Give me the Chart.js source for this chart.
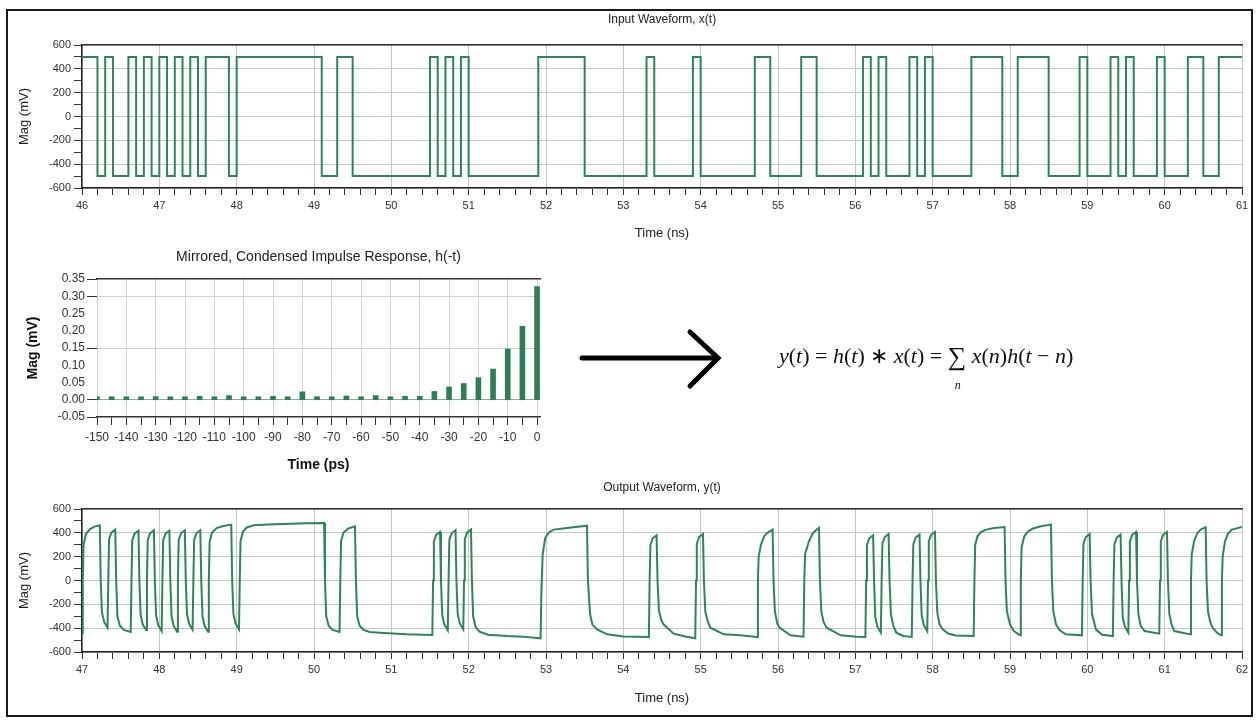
<!DOCTYPE html>
<html>
<head>
<meta charset="utf-8">
<script src="https://cdn.jsdelivr.net/npm/chart.js@4.4.1/dist/chart.umd.min.js"></script>
<style>
  body { margin:0; background:#fff; width:1258px; height:722px; overflow:hidden; position:relative; }
  #frame { position:absolute; left:6px; top:9px; width:1243px; height:704px; border:2px solid #1a1a1a; }
  canvas { position:absolute; }
  #arrow { position:absolute; left:0; top:0; }
  #eq { position:absolute; left:779px; top:343px; font-family:"Liberation Serif","Times New Roman",serif; font-size:22px; white-space:nowrap; color:#111; }
  #eq .sum { position:relative; display:inline-block; font-size:26px; line-height:22px; top:2px; }
  #eq .sub { position:absolute; left:7px; top:28px; font-size:12px; font-style:italic; }
</style>
</head>
<body>
<div id="frame"></div>
<canvas id="inputChart" width="1258" height="245" style="left:0;top:0"></canvas>
<canvas id="impulseChart" width="560" height="245" style="left:0;top:235px"></canvas>
<canvas id="outputChart" width="1258" height="240" style="left:0;top:470px"></canvas>
<svg id="arrow" width="1258" height="722">
  <line x1="582" y1="358" x2="716" y2="358" stroke="#000" stroke-width="5" stroke-linecap="round"/>
  <polyline points="690,332 718,358 690,386" fill="none" stroke="#000" stroke-width="5" stroke-linecap="round" stroke-linejoin="miter"/>
</svg>
<div id="eq"><i>y</i>(<i>t</i>) = <i>h</i>(<i>t</i>) &lowast; <i>x</i>(<i>t</i>) = <span class="sum">&sum;<span class="sub">n</span></span> <i>x</i>(<i>n</i>)<i>h</i>(<i>t</i> &minus; <i>n</i>)</div>
<script>
// input bit stream x(t): [time ns, level mV] at each edge (level held until next edge)
var inputSteps = [
  [46.0,500],[46.2,-500],[46.3,500],[46.4,-500],[46.6,500],[46.7,-500],[46.8,500],[46.9,-500],
  [47.0,500],[47.1,-500],[47.2,500],[47.3,-500],[47.4,500],[47.5,-500],[47.6,500],[47.9,-500],
  [48.0,500],[49.1,-500],[49.3,500],[49.5,-500],[50.5,500],[50.6,-500],[50.7,500],[50.8,-500],
  [50.9,500],[51.0,-500],[51.9,500],[52.5,-500],[53.3,500],[53.4,-500],[53.9,500],[54.0,-500],
  [54.7,500],[54.9,-500],[55.3,500],[55.5,-500],[56.1,500],[56.2,-500],[56.3,500],[56.4,-500],
  [56.7,500],[56.8,-500],[56.9,500],[57.0,-500],[57.5,500],[57.9,-500],[58.1,500],[58.5,-500],
  [58.9,500],[59.0,-500],[59.3,500],[59.4,-500],[59.5,500],[59.6,-500],[59.9,500],[60.0,-500],
  [60.3,500],[60.5,-500],[60.7,500],[61.0,500]
];

// mirrored impulse response h(-t)
var impulseTime = [-150,-145,-140,-135,-130,-125,-120,-115,-110,-105,-100,-95,-90,-85,-80,-75,
  -70,-65,-60,-55,-50,-45,-40,-35,-30,-25,-20,-15,-10,-5,0];
var impulseMag = [0.005,0.006,0.005,0.004,0.009,0.005,0.006,0.010,0.003,0.012,0.005,0.006,0.010,0.004,
  0.023,0.009,0.003,0.011,0.004,0.012,0.004,0.010,0.010,0.024,0.037,0.047,0.064,0.089,0.147,0.213,0.328];

// output waveform y(t): [time ns, mV]
var outputPoints = [
  [47.00,-440],[47.01,0],[47.02,300],[47.05,390],[47.10,430],[47.16,452],[47.23,463],
  [47.242,0],[47.258,-266],[47.285,-346],[47.33,-396],
  [47.34,0],[47.35,347],[47.38,402],[47.43,427],
  [47.442,0],[47.458,-300],[47.49,-380],[47.54,-415],[47.63,-432],
  [47.64,0],[47.65,338],[47.68,393],[47.73,418],
  [47.742,0],[47.758,-288],[47.785,-368],[47.83,-418],
  [47.84,0],[47.85,341],[47.88,396],[47.93,421],
  [47.942,0],[47.958,-294],[47.985,-374],[48.03,-424],
  [48.04,0],[48.05,338],[48.08,393],[48.13,418],
  [48.142,0],[48.158,-300],[48.185,-380],[48.23,-430],
  [48.24,0],[48.25,341],[48.28,396],[48.33,421],
  [48.342,0],[48.358,-283],[48.385,-363],[48.43,-413],
  [48.44,0],[48.45,341],[48.48,396],[48.53,421],
  [48.542,0],[48.558,-300],[48.585,-380],[48.63,-430],
  [48.64,0],[48.65,320],[48.68,400],[48.74,440],[48.83,458],[48.93,469],
  [48.942,0],[48.958,-280],[48.985,-360],[49.03,-410],
  [49.04,0],[49.05,330],[49.08,410],[49.13,445],[49.22,463],[49.40,470],[49.70,476],[49.90,480],[50.13,483],
  [50.142,0],[50.158,-300],[50.19,-380],[50.24,-415],[50.33,-432],
  [50.34,0],[50.35,330],[50.38,400],[50.44,435],[50.53,455],
  [50.542,0],[50.558,-300],[50.59,-380],[50.64,-415],[50.72,-432],[50.90,-440],[51.20,-452],[51.53,-457],
  [51.54,0],[51.55,327],[51.58,382],[51.63,407],
  [51.642,0],[51.658,-288],[51.685,-368],[51.73,-418],
  [51.74,0],[51.75,341],[51.78,396],[51.83,421],
  [51.842,0],[51.858,-280],[51.885,-360],[51.93,-410],
  [51.94,0],[51.95,347],[51.98,402],[52.03,427],
  [52.042,0],[52.058,-300],[52.09,-390],[52.14,-430],[52.25,-455],[52.50,-466],[52.70,-471],[52.93,-485],
  [52.94,-100],[52.957,218],[52.99,357],[53.04,405],[53.10,427],[53.27,441],[53.53,460],
  [53.542,0],[53.57,-285],[53.60,-370],[53.66,-410],[53.79,-452],[54.00,-469],[54.33,-474],
  [54.34,0],[54.35,299],[54.38,354],[54.43,379],
  [54.442,0],[54.46,-250],[54.49,-330],[54.52,-368],[54.65,-446],[54.80,-470],[54.93,-485],
  [54.94,0],[54.95,310],[54.98,365],[55.03,390],
  [55.042,0],[55.06,-260],[55.09,-340],[55.125,-396],[55.30,-452],[55.51,-460],[55.73,-474],
  [55.74,0],[55.75,200],[55.78,301],[55.82,370],[55.86,399],[55.93,427],
  [55.942,0],[55.96,-260],[55.99,-360],[56.02,-396],[56.16,-460],[56.33,-471],
  [56.34,0],[56.35,220],[56.40,329],[56.45,395],[56.50,427],[56.53,441],
  [56.542,0],[56.56,-260],[56.59,-350],[56.63,-396],[56.81,-460],[57.02,-471],[57.13,-474],
  [57.14,0],[57.15,299],[57.18,354],[57.23,379],
  [57.242,0],[57.258,-308],[57.285,-388],[57.33,-438],
  [57.34,0],[57.35,310],[57.38,365],[57.43,390],
  [57.442,0],[57.46,-280],[57.49,-380],[57.53,-438],[57.62,-465],[57.73,-474],
  [57.74,0],[57.75,305],[57.78,360],[57.83,385],
  [57.842,0],[57.858,-294],[57.885,-374],[57.93,-424],
  [57.94,0],[57.95,327],[57.98,382],[58.03,407],
  [58.042,0],[58.06,-270],[58.09,-370],[58.13,-410],[58.20,-445],[58.30,-462],[58.53,-466],
  [58.54,0],[58.55,300],[58.58,371],[58.62,405],[58.69,427],[58.80,440],[58.93,449],
  [58.942,0],[58.96,-260],[59.00,-368],[59.05,-425],[59.13,-460],
  [59.14,0],[59.15,280],[59.185,371],[59.23,410],[59.29,435],[59.40,455],[59.53,469],
  [59.542,0],[59.56,-260],[59.595,-368],[59.64,-415],[59.72,-452],[59.93,-460],
  [59.94,0],[59.95,310],[59.98,365],[60.03,390],
  [60.042,0],[60.06,-280],[60.11,-410],[60.19,-455],[60.33,-466],
  [60.34,0],[60.35,305],[60.38,360],[60.43,385],
  [60.442,0],[60.458,-308],[60.485,-388],[60.53,-438],
  [60.54,0],[60.55,327],[60.58,382],[60.63,407],
  [60.642,0],[60.66,-280],[60.69,-380],[60.74,-424],[60.93,-446],
  [60.94,0],[60.95,327],[60.98,382],[61.03,407],
  [61.042,0],[61.06,-280],[61.09,-370],[61.125,-424],[61.33,-452],
  [61.34,0],[61.35,220],[61.38,329],[61.42,395],[61.47,430],[61.53,446],
  [61.542,0],[61.56,-260],[61.59,-350],[61.62,-396],[61.68,-440],[61.73,-460],
  [61.74,0],[61.75,200],[61.78,329],[61.82,395],[61.87,427],[62.00,449]
];

var waveColor = '#2e8558';
var gridGray = '#c6c6c6';

Chart.defaults.font.family = '"Liberation Sans", Arial, sans-serif';
Chart.defaults.color = '#333';
Chart.defaults.animation = false;
Chart.defaults.events = [];

function isWhole(v, step) {
  var q = v / step;
  return Math.abs(q - Math.round(q)) < 1e-6;
}

function waveOptions(title, xmin, xmax, padTop, titleGap, axisH) {
  return {
    responsive: false,
    layout: { padding: { left: 12, right: 16, top: padTop, bottom: 0 } },
    plugins: {
      legend: { display: false },
      tooltip: { enabled: false },
      title: {
        display: true, text: title, fullSize: false, color: '#222',
        font: { size: 12, weight: 'normal' },
        padding: { top: 0, bottom: titleGap }
      }
    },
    scales: {
      x: {
        type: 'linear', min: xmin, max: xmax,
        ticks: {
          stepSize: 0.2, autoSkip: false, maxRotation: 0, padding: 4,
          font: { size: 11 },
          callback: function (v) { return isWhole(v, 1) ? String(Math.round(v)) : ''; }
        },
        grid: {
          color: function (c) { return c.tick && isWhole(c.tick.value, 1) ? gridGray : 'rgba(0,0,0,0)'; },
          tickColor: '#333', tickLength: 7
        },
        border: { color: '#222', width: 1.5 },
        title: { display: true, text: 'Time (ns)', color: '#222', font: { size: 13 }, padding: { top: 0, bottom: 4 } },
        afterFit: function (s) { s.height = axisH; }
      },
      xTop: {
        type: 'linear', position: 'top', min: xmin, max: xmax,
        ticks: { display: false },
        grid: { drawOnChartArea: false, drawTicks: false },
        border: { color: '#333', width: 1.5 },
        afterFit: function (s) { s.height = 0; }
      },
      y: {
        min: -600, max: 600,
        ticks: {
          stepSize: 100, autoSkip: false, padding: 3, font: { size: 11 },
          callback: function (v) { return isWhole(v, 200) ? String(v) : ''; }
        },
        grid: {
          color: function (c) { return c.tick && isWhole(c.tick.value, 200) ? gridGray : 'rgba(0,0,0,0)'; },
          tickColor: '#333', tickLength: 8
        },
        border: { color: '#222', width: 1.5 },
        title: { display: true, text: 'Mag (mV)', color: '#222', font: { size: 13 }, padding: { top: 5, bottom: 0 } },
        afterFit: function (s) { s.width = 70; }
      }
    }
  };
}

new Chart(document.getElementById('inputChart'), {
  type: 'line',
  data: {
    datasets: [{
      data: inputSteps.map(function (p) { return { x: p[0], y: p[1] }; }),
      stepped: true, borderColor: waveColor, borderWidth: 2, pointRadius: 0, fill: false
    }]
  },
  options: waveOptions('Input Waveform, x(t)', 46, 61, 12, 18.6, 57)
});

new Chart(document.getElementById('outputChart'), {
  type: 'line',
  data: {
    datasets: [{
      data: outputPoints.map(function (p) { return { x: p[0], y: p[1] }; }),
      borderColor: waveColor, borderWidth: 2, pointRadius: 0, tension: 0, fill: false
    }]
  },
  options: waveOptions('Output Waveform, y(t)', 47, 62, 10, 14.6, 58)
});

new Chart(document.getElementById('impulseChart'), {
  type: 'bar',
  data: {
    datasets: [{
      data: impulseTime.map(function (t, i) { return { x: t, y: impulseMag[i] }; }),
      backgroundColor: '#2f7d57', barThickness: 5, minBarLength: 3
    }]
  },
  options: {
    responsive: false,
    layout: { padding: { left: 14, right: 20, top: 14, bottom: 0 } },
    plugins: {
      legend: { display: false },
      tooltip: { enabled: false },
      title: {
        display: true, text: 'Mirrored, Condensed Impulse Response, h(-t)', fullSize: false, color: '#222',
        font: { size: 14, weight: 'normal' },
        padding: { top: 0, bottom: 13.2 }
      }
    },
    scales: {
      x: {
        type: 'linear', min: -150, max: 1, offset: false,
        ticks: {
          stepSize: 5, includeBounds: false, autoSkip: false, maxRotation: 0, padding: 5,
          font: { size: 12 },
          callback: function (v) { return isWhole(v, 10) ? String(v) : ''; }
        },
        grid: {
          offset: false,
          color: function (c) { return c.tick && isWhole(c.tick.value, 10) ? '#d2d2d2' : 'rgba(0,0,0,0)'; },
          tickColor: '#333', tickLength: 8
        },
        border: { color: '#333', width: 1.5 },
        title: { display: true, text: 'Time (ps)', color: '#111', font: { size: 14, weight: 'bold' }, padding: { top: 0, bottom: 6 } },
        afterFit: function (s) { s.height = 63; }
      },
      xTop: {
        type: 'linear', position: 'top', min: -150, max: 1,
        ticks: { display: false },
        grid: { drawOnChartArea: false, drawTicks: false },
        border: { color: '#333', width: 1.5 },
        afterFit: function (s) { s.height = 0; }
      },
      y: {
        min: -0.05, max: 0.35,
        ticks: {
          stepSize: 0.05, autoSkip: false, padding: 2, font: { size: 12 },
          callback: function (v) { return Math.abs(v) < 1e-9 ? '0.00' : v.toFixed(2); }
        },
        grid: {
          color: function (c) {
            if (!c.tick) return 'rgba(0,0,0,0)';
            var v = c.tick.value;
            if (Math.abs(v) < 1e-6) return '#8fa89a';
            if (Math.abs(v - 0.3) < 1e-6 || Math.abs(v - 0.15) < 1e-6) return '#cfcfcf';
            return 'rgba(0,0,0,0)';
          },
          tickColor: function (c) {
            if (!c.tick) return 'rgba(0,0,0,0)';
            var v = c.tick.value;
            var marks = [0.35, 0.3, 0.15, 0, -0.05];
            for (var i = 0; i < marks.length; i++) if (Math.abs(v - marks[i]) < 1e-6) return '#333';
            return 'rgba(0,0,0,0)';
          },
          tickLength: 10
        },
        border: { display: false },
        title: { display: true, text: 'Mag (mV)', color: '#111', font: { size: 14, weight: 'bold' }, padding: { top: 10.6, bottom: 0 } },
        afterFit: function (s) { s.width = 83; }
      }
    }
  }
});
</script>
</body>
</html>
